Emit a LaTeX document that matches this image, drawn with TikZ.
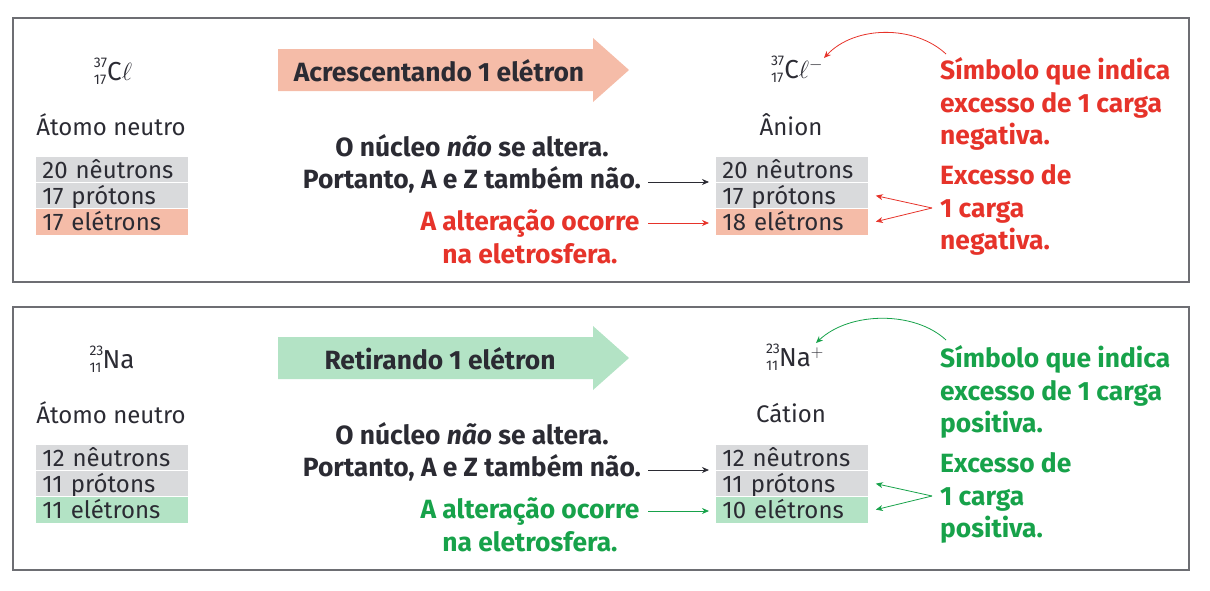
\documentclass[tikz,border=0pt]{standalone}
\usepackage{amsmath}
\usepackage{fontspec}
\setmainfont{Fira Sans}
\usetikzlibrary{arrows.meta,calc}
\definecolor{ink}{HTML}{2B2B33}
\definecolor{redt}{HTML}{E6332A}
\definecolor{greent}{HTML}{17A24A}
\definecolor{salmon}{HTML}{F5BCA8}
\definecolor{mint}{HTML}{B3E3C5}
\definecolor{lgray}{HTML}{D9DADC}
\definecolor{frame}{HTML}{6D6E73}
\newcommand{\isonum}[1]{{\fontsize{14}{14}\selectfont #1}}
\newcommand{\iso}[2]{\makebox[0pt][l]{\raisebox{13.5pt}{\isonum{#1}}}\raisebox{-3.5pt}{\isonum{#2}}\kern1pt}
\tikzset{
  panel/.style={draw=frame,line width=1.6pt},
  rowbox/.style={draw=white,line width=0.8pt,minimum width=153pt,minimum height=26.5pt,anchor=north west,inner xsep=7pt,inner ysep=0pt,text=ink,font=\fontsize{24}{26}\selectfont,align=left,text width=139pt,text height=19pt,text depth=2pt},
  reg/.style={text=ink,font=\fontsize{24}{26}\selectfont,inner sep=0pt},
  bld/.style={font=\fontsize{26.4}{32.5}\selectfont\bfseries,inner sep=0pt},
  sym/.style={text=ink,font=\fontsize{26}{28}\selectfont,inner sep=0pt},
  tip/.style={-{Stealth[length=7pt,width=6pt]},line width=0.8pt},
}
\begin{document}
\begin{tikzpicture}[x=1pt,y=-1pt]
\useasboundingbox (0,0) rectangle (1210,590);
% ---------- panels ----------
\draw[panel] (13,18) rectangle (1189,282);
\draw[panel] (13,307) rectangle (1189,570);

% ================= TOP PANEL =================
\node[sym] (clA) at (113,71) {\iso{37}{17}C$\ell$};
\node[reg] (atA) at (111,125) {Átomo neutro};
\node[rowbox,fill=lgray] (a1) at (35,156) {20 nêutrons};
\node[rowbox,fill=lgray] (a2) at (35,182) {17 prótons};
\node[rowbox,fill=salmon] (a3) at (35,208) {17 elétrons};

\fill[salmon] (278,49) -- (593,49) -- (593,38) -- (629,70) -- (593,102) -- (593,91) -- (278,91) -- cycle;
\node[bld,text=ink] (arA) at (439,71) {Acrescentando 1 elétron};

\node[bld,text=ink,align=center] (nucA) at (472,164) {O núcleo \textit{não} se altera.\\Portanto, A e Z também não.};
\node[bld,text=redt,align=center] (eleA) at (530,237) {A alteração ocorre\\na eletrosfera.};

\node[sym] (clB) at (797,69) {\iso{37}{17}C$\ell^{-}$};
\node[reg] (anB) at (791,125) {Ânion};
\node[rowbox,fill=lgray] (b1) at (715,156) {20 nêutrons};
\node[rowbox,fill=lgray] (b2) at (715,182) {17 prótons};
\node[rowbox,fill=salmon] (b3) at (715,208) {18 elétrons};

\node[bld,text=redt,align=left,anchor=west] (simA) at (940,104) {Símbolo que indica\\excesso de 1 carga\\negativa.};
\node[bld,text=redt,align=left,anchor=west] (excA) at (940,210) {Excesso de\\1 carga\\negativa.};

\coordinate (pA) at (648,182);
\coordinate (qA) at (648,223);
\draw[tip,draw=ink] (pA) -- ($(pA -| b1.west)+(-6,0)$);
\draw[tip,draw=redt] (qA) -- ($(qA -| b3.west)+(-6,0)$);
\coordinate (sA) at (946,54);
\coordinate (tA) at (824,58);
\draw[tip,draw=redt] (sA) .. controls (915,25) and (855,25) .. (tA);
\coordinate (fA) at (932,208);
\draw[tip,draw=redt] (fA) -- ($(b2.east)+(7,0)$);
\draw[tip,draw=redt] (fA) -- ($(b3.east)+(7,0)$);

% ================= BOTTOM PANEL =================
\node[sym] (naA) at (112,359) {\iso{23}{11}Na};
\node[reg] (atC) at (111,413) {Átomo neutro};
\node[rowbox,fill=lgray] (c1) at (35,444) {12 nêutrons};
\node[rowbox,fill=lgray] (c2) at (35,470) {11 prótons};
\node[rowbox,fill=mint] (c3) at (35,496) {11 elétrons};

\fill[mint] (278,337) -- (593,337) -- (593,326) -- (629,358) -- (593,390) -- (593,379) -- (278,379) -- cycle;
\node[bld,text=ink] (arC) at (440,359) {Retirando 1 elétron};

\node[bld,text=ink,align=center] (nucC) at (472,452) {O núcleo \textit{não} se altera.\\Portanto, A e Z também não.};
\node[bld,text=greent,align=center] (eleC) at (530,525) {A alteração ocorre\\na eletrosfera.};

\node[sym] (naB) at (795,357) {\iso{23}{11}Na$^{+}$};
\node[reg] (caB) at (791,413) {Cátion};
\node[rowbox,fill=lgray] (d1) at (715,444) {12 nêutrons};
\node[rowbox,fill=lgray] (d2) at (715,470) {11 prótons};
\node[rowbox,fill=mint] (d3) at (715,496) {10 elétrons};

\node[bld,text=greent,align=left,anchor=west] (simC) at (940,392) {Símbolo que indica\\excesso de 1 carga\\positiva.};
\node[bld,text=greent,align=left,anchor=west] (excC) at (940,498) {Excesso de\\1 carga\\positiva.};

\coordinate (pC) at (648,470);
\coordinate (qC) at (648,511);
\draw[tip,draw=ink] (pC) -- ($(pC -| d1.west)+(-6,0)$);
\draw[tip,draw=greent] (qC) -- ($(qC -| d3.west)+(-6,0)$);
\coordinate (sC) at (946,340);
\coordinate (tC) at (816,343);
\draw[tip,draw=greent] (sC) .. controls (915,311) and (850,311) .. (tC);
\coordinate (fC) at (932,496);
\draw[tip,draw=greent] (fC) -- ($(d2.east)+(7,0)$);
\draw[tip,draw=greent] (fC) -- ($(d3.east)+(7,0)$);
\end{tikzpicture}
\end{document}
